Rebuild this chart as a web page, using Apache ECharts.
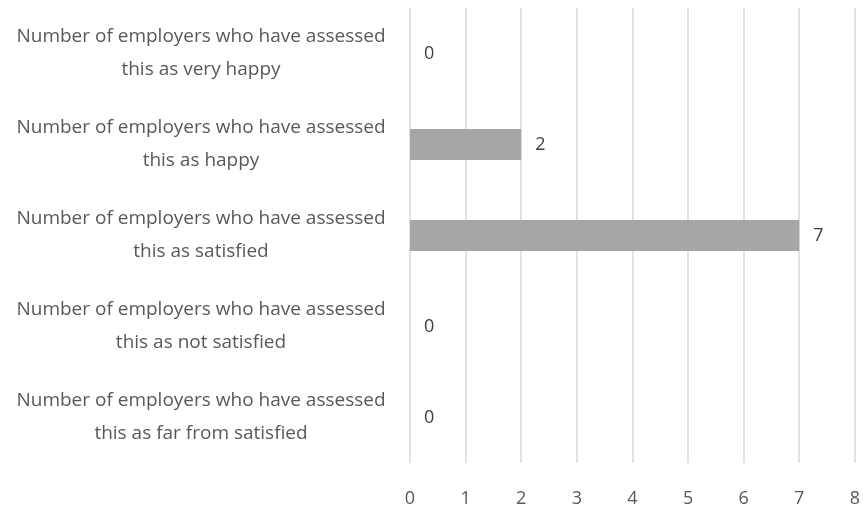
<!DOCTYPE html>
<html><head><meta charset="utf-8">
<script src="https://cdn.jsdelivr.net/npm/echarts@6/dist/echarts.min.js"></script>
<style>html,body{margin:0;padding:0;background:#fff}#c{width:863px;height:511px}</style>
</head><body><div id="c"></div>
<script>
var categories = [
  "Number of employers who have assessed\nthis as very happy",
  "Number of employers who have assessed\nthis as happy",
  "Number of employers who have assessed\nthis as satisfied",
  "Number of employers who have assessed\nthis as not satisfied",
  "Number of employers who have assessed\nthis as far from satisfied"
];
var values = [0, 2, 7, 0, 0];
var xTicks = [0, 1, 2, 3, 4, 5, 6, 7, 8];

var FONT = 'Open Sans';
var chart = echarts.init(document.getElementById('c'));
chart.setOption({
  animation: false,
  textStyle: {fontFamily: FONT},
  grid: {left: 410, right: 7, top: 8, bottom: 48, containLabel: false},
  xAxis: {
    type: 'value', min: xTicks[0], max: xTicks[xTicks.length-1], interval: 1,
    axisLine: {show: false}, axisTick: {show: false},
    splitLine: {lineStyle: {color: '#d9d9d9', width: 1.5}},
    axisLabel: {color: '#595959', fontSize: 18, margin: 27, fontFamily: FONT}
  },
  yAxis: {
    type: 'category', data: categories, inverse: true,
    axisLine: {show: false}, axisTick: {show: false},
    axisLabel: {color: '#595959', fontSize: 19, lineHeight: 33, align: 'center', margin: 209, fontFamily: FONT}
  },
  series: [{
    type: 'bar', data: values, barCategoryGap: '66%',
    itemStyle: {color: '#a6a6a6'},
    label: {show: true, position: 'right', distance: 14, color: '#404040', fontSize: 18, fontFamily: FONT}
  }]
});
</script></body></html>
